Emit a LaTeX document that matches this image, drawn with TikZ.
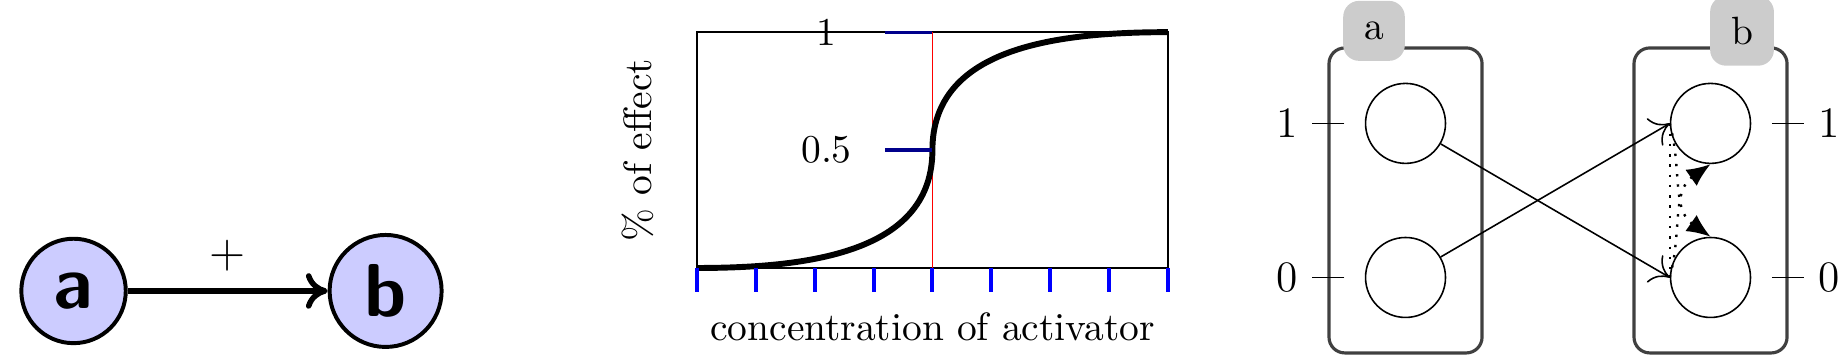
\documentclass[tikz,border=0pt]{standalone}
\usepackage{tikz}
\usetikzlibrary{arrows.meta,positioning}

\begin{document}
\begin{tikzpicture}[
gene/.style={circle, draw, line width=1pt, fill=blue!20, minimum size=0.93cm, inner sep=4pt, font=\sffamily\bfseries\fontsize{19}{22}\selectfont},
act/.style={-{Computer Modern Rightarrow[length=5.5pt,width=9pt]}, line width=1.4pt},
xtick/.style={blue, line width=1pt},
ytick/.style={blue!55!black, line width=0.8pt},
group/.style={draw=black!75, line width=0.8pt, rounded corners=4pt, minimum width=1.363cm, minimum height=2.716cm},
tab/.style={fill=black!20, rounded corners=4pt, inner sep=5.3pt},
cell/.style={circle, draw, minimum size=0.712cm, inner sep=0pt},
state/.style={font=\fontsize{11}{13}\selectfont},
link/.style={-{Computer Modern Rightarrow[length=4.5pt,width=8pt]}},
feed/.style={dotted, semithick, -{Latex[length=6pt,width=5pt]}}
]
\useasboundingbox (0,0) rectangle (16.394,3.179);

% activation a -> b
\node[gene] (a) at (0.655,0.588) {a};
\node[gene, right=1.78cm of a] (b) {b};
\draw[act] (a) -- node[midway, above=1pt, font=\large] {+} (b);

% response curve
\begin{scope}[shift={(6.207,0.7925)}, x=0.524cm, y=0.525cm]
\draw (0,0) rectangle (8,4);
\draw[red] (4,0) -- (4,4);
\draw[line width=1.5pt] (0,0) .. controls (2,0) and (4,0.3) .. (4,2) .. controls (4,3.7) and (6,4) .. (8,4);
\foreach \i in {0,...,8}
  \draw[xtick] (\i,0) -- (\i,-0.4);
\draw[ytick] (3.2,4) -- (4,4);
\draw[ytick] (3.2,2) -- (4,2);
\node at (2.2,4) {1};
\node at (2.2,2) {0.5};
\node[rotate=90] at (-1,2) {\% of effect};
\node at (4,-1) {concentration of activator};
\end{scope}

% boolean states
\node[group] (ga) at (12.516,1.394) {};
\node[group] (gb) at (15.232,1.394) {};
\node[tab] (ta) at ([xshift=0.415cm, yshift=0.138cm]ga.north west) {a};
\node[tab] (tb) at ([xshift=-0.415cm, yshift=0.138cm]gb.north east) {b};
\node[cell] (a1) at ([yshift=0.686cm]ga.center) {};
\node[cell] (a0) at ([yshift=-0.686cm]ga.center) {};
\node[cell] (b1) at ([yshift=0.686cm]gb.center) {};
\node[cell] (b0) at ([yshift=-0.686cm]gb.center) {};
\draw ([xshift=0.15cm]a1 -| ga.west) -- ++(-0.29,0) node[left, state] {1};
\draw ([xshift=0.15cm]a0 -| ga.west) -- ++(-0.29,0) node[left, state] {0};
\draw ([xshift=-0.15cm]b1 -| gb.east) -- ++(0.29,0) node[right, state] {1};
\draw ([xshift=-0.15cm]b0 -| gb.east) -- ++(0.29,0) node[right, state] {0};
\draw[link] (a1) -- (b0.west);
\draw[link] (a0) -- (b1.west);
\draw[dotted, semithick] (b1.west) -- (b0.west);
\draw[feed] (b1.west) to[out=-75, in=145] (b0.north);
\draw[feed] (b0.west) to[out=75, in=-145] (b1.south);
\end{tikzpicture}
\end{document}
